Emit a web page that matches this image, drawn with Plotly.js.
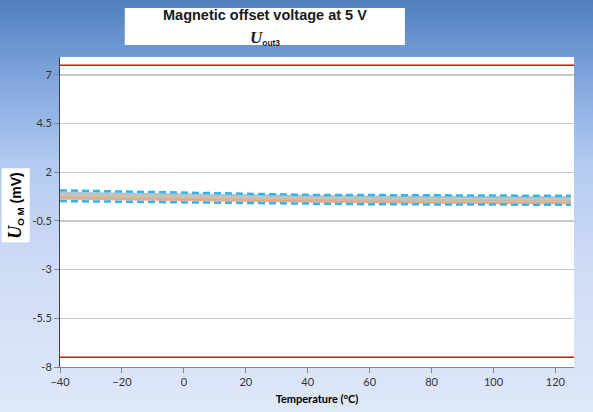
<!DOCTYPE html>
<html>
<head>
<meta charset="utf-8">
<script src="https://cdn.plot.ly/plotly-3.0.1.min.js"></script>
<style>
  html, body { margin: 0; padding: 0; }
  body {
    width: 593px; height: 412px; overflow: hidden;
    background: linear-gradient(to bottom, #4f80be 0%, #7ea3dc 18%, #b3cbf2 40%, #cfdcf6 65%, #dfe8f8 100%);
  }
  #chart { width: 593px; height: 412px; }
</style>
</head>
<body>
<div id="chart"></div>
<script>
// Temperatures (°C)
const temps = [-40, -20, 0, 20, 40, 60, 80, 100, 120, 125];

// Dashed bounds (mV)
const upperBound = [1.07, 1.02, 0.97, 0.90, 0.84, 0.83, 0.82, 0.80, 0.79, 0.79];
const lowerBound = [0.52, 0.48, 0.44, 0.41, 0.38, 0.36, 0.35, 0.34, 0.33, 0.33];

// Individual device curves (mV)
const dev1 = [0.93, 0.89, 0.85, 0.80, 0.76, 0.74, 0.73, 0.72, 0.71, 0.71];
const dev2 = [0.88, 0.84, 0.80, 0.75, 0.71, 0.69, 0.68, 0.67, 0.66, 0.66];
const dev3 = [0.84, 0.80, 0.76, 0.71, 0.67, 0.65, 0.64, 0.63, 0.62, 0.62];
const dev4 = [0.80, 0.76, 0.72, 0.67, 0.63, 0.61, 0.60, 0.59, 0.58, 0.58];
const dev5 = [0.76, 0.72, 0.68, 0.63, 0.59, 0.57, 0.56, 0.55, 0.54, 0.54];
const dev6 = [0.72, 0.68, 0.64, 0.59, 0.55, 0.53, 0.52, 0.51, 0.50, 0.50];
const dev7 = [0.68, 0.64, 0.60, 0.55, 0.51, 0.48, 0.47, 0.46, 0.45, 0.45];
const dev8 = [0.65, 0.61, 0.57, 0.52, 0.48, 0.45, 0.43, 0.42, 0.41, 0.41];

// Limits
const limitTemps = [-40, 126];
const upperLimit = [7.5, 7.5];
const lowerLimit = [-7.5, -7.5];

// Axis ticks
const yTickVals = [7, 4.5, 2, -0.5, -3, -5.5, -8];
const yTickText = ["7", "4.5", "2", "-0.5", "-3", "-5.5", "-8"];
const xTickVals = [-40, -20, 0, 20, 40, 60, 80, 100, 120];

const devs = [dev1, dev2, dev3, dev4, dev5, dev6, dev7, dev8];
const devColors = ["#8fb4e0", "#b0b0b0", "#c6d49a", "#a9c4e8", "#f4b183", "#b8b8b8", "#d9c98a", "#e89a80"];

const traces = [];
devs.forEach((d, i) => {
  traces.push({x: temps, y: d, mode: "lines", type: "scatter",
    line: {color: devColors[i], width: 2.5}, opacity: 0.7, hoverinfo: "skip"});
});
traces.push({x: temps, y: upperBound, mode: "lines", type: "scatter",
  line: {color: "#33b5ea", width: 2.5, dash: "7px,4px"}});
traces.push({x: temps, y: lowerBound, mode: "lines", type: "scatter",
  line: {color: "#33b5ea", width: 2.5, dash: "7px,4px"}});
traces.push({x: limitTemps, y: upperLimit, mode: "lines", type: "scatter",
  line: {color: "#ff0000", width: 1.5}});
traces.push({x: limitTemps, y: lowerLimit, mode: "lines", type: "scatter",
  line: {color: "#ff0000", width: 1.5}});

const tickFont = {family: "Lato, 'Open Sans', sans-serif", size: 11, color: "#333333"};

const layout = {
  width: 593, height: 412,
  margin: {l: 60, r: 19, t: 57, b: 45, pad: 0},
  paper_bgcolor: "rgba(0,0,0,0)",
  plot_bgcolor: "#ffffff",
  showlegend: false,
  xaxis: {
    range: [-40, 126], tickvals: xTickVals, ticks: "outside", ticklen: 5,
    tickcolor: "#868686", showgrid: false, zeroline: false,
    showline: true, linecolor: "#868686", linewidth: 1,
    tickfont: tickFont,
    title: {text: "<b>Temperature (°C)</b>", font: {family: "Lato, sans-serif", size: 11, color: "#000"}, standoff: 8}
  },
  yaxis: {
    range: [-8, 7.92], tickvals: yTickVals, ticktext: yTickText,
    ticks: "outside", ticklen: 5, tickcolor: "#868686",
    showgrid: true, gridcolor: "#c8c8c8", gridwidth: 1.5, zeroline: false,
    showline: true, linecolor: "#404040", linewidth: 1,
    tickfont: tickFont
  },
  shapes: [
    {type: "rect", xref: "paper", yref: "paper", x0: 0.126, x1: 0.671, y0: 1.039, y1: 1.158,
     fillcolor: "#ffffff", line: {width: 0}, layer: "above"}
  ],
  annotations: [
    {xref: "paper", yref: "paper", x: 0.399, y: 1.137, xanchor: "center", yanchor: "middle",
     showarrow: false,
     text: "<b>Magnetic offset voltage at 5 V</b>",
     font: {family: "'Liberation Sans', Arial, sans-serif", size: 14.5, color: "#1a1a1a"}},
    {xref: "paper", yref: "paper", x: 0.399, y: 1.062, xanchor: "center", yanchor: "middle",
     showarrow: false,
     text: "<span style=\"font-family:'Liberation Serif',serif;font-size:17px\"><b><i>U</i></b></span><sub><b>out3</b></sub>",
     font: {family: "'Liberation Sans', Arial, sans-serif", size: 12, color: "#1a1a1a"}},
    {xref: "paper", yref: "paper", x: -0.0856, y: 0.52, xanchor: "center", yanchor: "middle",
     showarrow: false, textangle: -90, bgcolor: "#ffffff", borderpad: 3,
     text: "<span style=\"font-family:'Liberation Serif',serif;font-size:18px\"><b><i>U</i></b></span><sub><b>O M</b></sub><span style=\"font-family:'Liberation Sans',Arial,sans-serif\"><b> (mV)</b></span>",
     font: {family: "'Liberation Sans', Arial, sans-serif", size: 14, color: "#000"}}
  ]
};

Plotly.newPlot("chart", traces, layout, {displayModeBar: false, staticPlot: true});
</script>
</body>
</html>
